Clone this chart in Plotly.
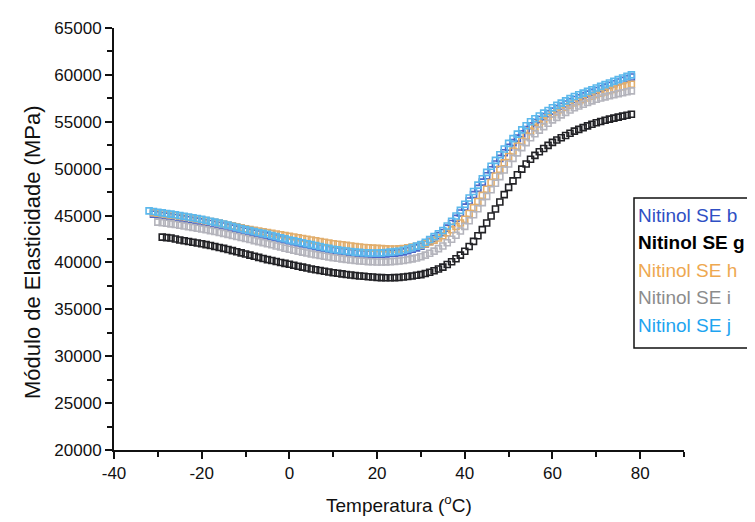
import plotly.graph_objects as go

# Temperatures (°C) sampled along each curve
temp_b = list(range(-31, 79))
temp_g = list(range(-29, 79))
temp_h = list(range(-31, 79))
temp_i = list(range(-30, 79))
temp_j = list(range(-32, 79))

mod_b = [45150, 45080, 45010, 44940, 44870, 44800, 44730, 44650, 44570, 44490, 44410, 44330,
         44240, 44150, 44060, 43970, 43880, 43770, 43660, 43550, 43440, 43330,
         43230, 43130, 43030, 42930, 42830, 42720, 42610, 42500, 42390, 42280,
         42180, 42080, 41980, 41880, 41780, 41680, 41580, 41480, 41380, 41280,
         41220, 41160, 41100, 41040, 40980, 40940, 40910, 40890, 40880, 40870,
         40880, 40910, 40950, 40990, 41040, 41130, 41260, 41400, 41550, 41720,
         41960, 42250, 42550, 42860, 43200, 43660, 44160, 44700, 45280, 45900,
         46560, 47230, 47900, 48570, 49240, 49880, 50500, 51100, 51700, 52280,
         52780, 53260, 53720, 54160, 54580, 54920, 55240, 55550, 55850, 56140,
         56400, 56650, 56900, 57140, 57380, 57570, 57760, 57950, 58140, 58330,
         58520, 58700, 58880, 59060, 59240, 59420, 59600, 59780]

mod_g = [42700, 42650, 42600, 42500, 42400, 42320, 42240, 42160, 42080, 42000,
         41900, 41800, 41700, 41600, 41500, 41380, 41260, 41140, 41020, 40900,
         40780, 40660, 40540, 40420, 40300, 40200, 40100, 40000, 39900, 39800,
         39700, 39600, 39500, 39400, 39300, 39220, 39140, 39060, 38980, 38900,
         38840, 38780, 38720, 38660, 38600, 38560, 38520, 38480, 38440, 38400,
         38380, 38370, 38370, 38380, 38400, 38440, 38500, 38560, 38630, 38700,
         38820, 38960, 39120, 39300, 39500, 39780, 40080, 40400, 40780, 41200,
         41700, 42250, 42850, 43500, 44200, 44950, 45700, 46450, 47230, 48000,
         48700, 49350, 49950, 50500, 51000, 51420, 51800, 52150, 52480, 52800,
         53060, 53300, 53540, 53770, 54000, 54190, 54380, 54560, 54730, 54900,
         55030, 55160, 55280, 55390, 55500, 55600, 55700, 55800]

mod_h = [45300, 45250, 45190, 45130, 45070, 45010, 44950, 44870, 44790, 44710, 44630, 44550,
         44460, 44370, 44280, 44190, 44100, 44000, 43900, 43800, 43700, 43600,
         43520, 43440, 43360, 43280, 43200, 43120, 43040, 42960, 42880, 42800,
         42720, 42640, 42560, 42480, 42400, 42320, 42240, 42160, 42080, 42000,
         41940, 41880, 41820, 41760, 41700, 41650, 41600, 41560, 41530, 41500,
         41470, 41450, 41440, 41440, 41450, 41490, 41550, 41630, 41720, 41850,
         42000, 42180, 42380, 42600, 42850, 43150, 43480, 43830, 44200, 44600,
         45220, 45850, 46500, 47150, 47800, 48520, 49220, 49920, 50620, 51300,
         51880, 52420, 52950, 53480, 54000, 54380, 54740, 55100, 55450, 55800,
         56050, 56300, 56540, 56770, 57000, 57180, 57360, 57540, 57720, 57900,
         58040, 58180, 58320, 58460, 58600, 58730, 58870, 59000]

mod_i = [44300, 44240, 44180, 44110, 44040, 43970, 43890, 43810, 43730, 43650, 43570,
         43480, 43390, 43300, 43200, 43100, 42990, 42880, 42770, 42660, 42550,
         42440, 42330, 42220, 42110, 42000, 41880, 41760, 41640, 41520, 41400,
         41300, 41200, 41100, 41000, 40900, 40820, 40740, 40660, 40580, 40500,
         40440, 40380, 40320, 40260, 40200, 40160, 40120, 40090, 40070, 40050,
         40050, 40060, 40080, 40110, 40150, 40210, 40290, 40380, 40480, 40600,
         40780, 40980, 41210, 41470, 41750, 42100, 42480, 42900, 43350, 43850,
         44450, 45080, 45720, 46380, 47050, 47750, 48450, 49150, 49850, 50500,
         51100, 51680, 52240, 52780, 53300, 53720, 54110, 54480, 54850, 55200,
         55470, 55740, 56000, 56250, 56500, 56690, 56870, 57050, 57230, 57400,
         57530, 57660, 57780, 57890, 58000, 58100, 58200, 58300]

mod_j = [45500, 45430, 45360, 45290, 45220, 45150, 45080, 45000,
         44920, 44840, 44760, 44680, 44600, 44500, 44400, 44300, 44200, 44100,
         43980, 43860, 43740, 43620, 43500, 43400, 43300, 43200, 43100, 43000,
         42880, 42760, 42640, 42520, 42400, 42300, 42200, 42100, 42000, 41900,
         41800, 41700, 41600, 41500, 41400, 41340, 41280, 41220, 41160, 41100,
         41070, 41040, 41020, 41010, 41000, 41020, 41060, 41100, 41150, 41200,
         41300, 41440, 41580, 41740, 41900, 42150, 42450, 42750, 43060, 43400,
         43880, 44400, 44950, 45550, 46200, 46880, 47560, 48240, 48920, 49600,
         50250, 50880, 51480, 52100, 52700, 53200, 53680, 54140, 54580, 55000,
         55320, 55620, 55920, 56210, 56500, 56750, 56990, 57230, 57470, 57700,
         57880, 58060, 58240, 58420, 58600, 58780, 58960, 59140, 59320, 59500,
         59670, 59840, 60000]

series_names = ["Nitinol SE b", "Nitinol SE g", "Nitinol SE h", "Nitinol SE i", "Nitinol SE j"]
series_x = [temp_b, temp_g, temp_h, temp_i, temp_j]
series_y = [mod_b, mod_g, mod_h, mod_i, mod_j]
marker_colors = ["#4a66c8", "#222226", "#e2ae6c", "#b4b4bc", "#5cb8ec"]
text_colors = ["#2f4fc4", "#000000", "#eea850", "#8c8c8c", "#1ea4f0"]

x_ticks = [-40, -20, 0, 20, 40, 60, 80]
y_ticks = [20000, 25000, 30000, 35000, 40000, 45000, 50000, 55000, 60000, 65000]

x_title = "Temperatura (<sup>o</sup>C)"
y_title = "Módulo de Elasticidade (MPa)"

FONT = "Liberation Sans, Arial, sans-serif"

fig = go.Figure()
for name, xs, ys, col in zip(series_names, series_x, series_y, marker_colors):
    fig.add_trace(go.Scatter(
        x=xs, y=ys, mode="markers", name=name,
        marker=dict(symbol="square-open", size=6, color=col, line=dict(width=1.6, color=col)),
        showlegend=False,
    ))

L, R, T, B = 106, 79, 20, 80
W, H = 755, 522
pw, ph = W - L - R, H - T - B

def px_x(px):
    return (px - L) / pw

def px_y(py):
    return (H - B - py) / ph

annotations = []
for k, (name, col) in enumerate(zip(series_names, text_colors)):
    annotations.append(dict(
        x=px_x(628), y=px_y(207 + 27.5 * k), xref="paper", yref="paper",
        text=("<b>%s</b>" % name) if k == 1 else name,
        showarrow=False, xanchor="left", yanchor="middle",
        font=dict(family=FONT, size=19, color=col),
    ))

# axis titles
annotations.append(dict(
    x=px_x(391), y=px_y(496), xref="paper", yref="paper", text=x_title,
    showarrow=False, xanchor="center", yanchor="middle",
    font=dict(family=FONT, size=19, color="#111111"),
))
annotations.append(dict(
    x=px_x(24), y=px_y(245), xref="paper", yref="paper", text=y_title,
    showarrow=False, xanchor="center", yanchor="middle", textangle=-90,
    font=dict(family=FONT, size=22, color="#111111"),
))

fig.add_shape(type="rect", xref="paper", yref="paper",
              x0=px_x(626), x1=px_x(800), y0=px_y(340), y1=px_y(190),
              line=dict(color="#111111", width=1.5), fillcolor="rgba(255,255,255,0)")

axis_font = dict(family=FONT, size=17, color="#111111")
fig.update_layout(
    width=W, height=H,
    margin=dict(l=L, r=R, t=T, b=B),
    paper_bgcolor="white", plot_bgcolor="white",
    annotations=annotations,
    xaxis=dict(
        range=[-40, 90], tickvals=x_ticks, ticktext=[str(v) for v in x_ticks],
        showgrid=False, zeroline=False, showline=True, linecolor="#111111", linewidth=2,
        ticks="outside", ticklen=7, tickwidth=1.5, tickcolor="#111111",
        minor=dict(ticks="outside", dtick=10, ticklen=5, tickwidth=1.5, tickcolor="#111111", showgrid=False),
        tickfont=axis_font,
    ),
    yaxis=dict(
        range=[20000, 65000], tickvals=y_ticks, ticktext=[str(v) for v in y_ticks],
        showgrid=False, zeroline=False, showline=True, linecolor="#111111", linewidth=2,
        ticks="outside", ticklen=7, tickwidth=1.5, tickcolor="#111111",
        minor=dict(ticks="outside", dtick=2500, ticklen=5, tickwidth=1.5, tickcolor="#111111", showgrid=False),
        tickfont=axis_font,
    ),
)

fig.write_html("out.html")
